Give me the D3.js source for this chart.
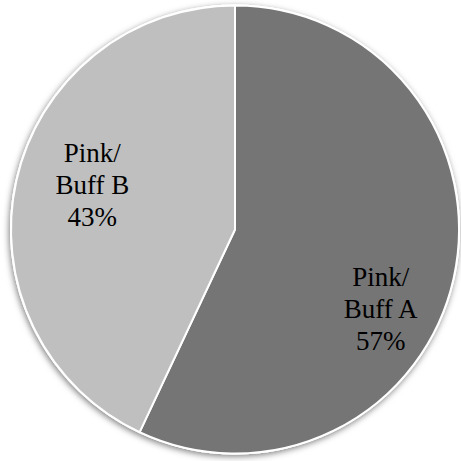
<!DOCTYPE html>
<html><head><meta charset="utf-8">
<script src="https://cdn.jsdelivr.net/npm/d3@7"></script>
<style>html,body{margin:0;padding:0;background:#fff;overflow:hidden}</style>
</head><body>
<script>
// data
const categories = ["Pink/ Buff A", "Pink/ Buff B"];
const labelLines = [["Pink/", "Buff A"], ["Pink/", "Buff B"]];
const values = [57, 43];
const colors = ["#757575", "#bfbfbf"];

// layout
const W = 461, H = 461;
const cx = 235, cy = 229.5, R = 224;
// label anchor: [angle offset (rad), radius fraction]
const labelPlacement = [[0.29, 0.745], [0.07, 0.665]];

const svg = d3.select("body").append("svg").attr("width", W).attr("height", H);
const defs = svg.append("defs");
const f = defs.append("filter").attr("id", "sh").attr("x", "-10%").attr("y", "-10%").attr("width", "120%").attr("height", "120%");
f.append("feDropShadow").attr("dx", -1).attr("dy", 2).attr("stdDeviation", 3)
  .attr("flood-color", "#000").attr("flood-opacity", 0.5);

const data = categories.map((c, i) => ({ c, v: values[i], i }));
const pie = d3.pie().value(d => d.v).sort(null);
const arcs = pie(data);
const arc = d3.arc().innerRadius(0).outerRadius(R);

const g = svg.append("g").attr("transform", `translate(${cx},${cy})`);
g.append("circle").attr("r", R + 1).attr("fill", "#fff").attr("filter", "url(#sh)");
g.selectAll("path.slice").data(arcs).enter().append("path")
  .attr("class", "slice")
  .attr("d", arc)
  .attr("fill", d => colors[d.index])
  .attr("stroke", "#fff").attr("stroke-width", 2).attr("stroke-linejoin", "round");

const total = d3.sum(values);
const lbl = g.selectAll("text.lbl").data(arcs).enter().append("text")
  .attr("class", "lbl")
  .attr("font-family", "'Liberation Serif', serif")
  .attr("font-size", 27)
  .attr("fill", "#000")
  .attr("text-anchor", "middle")
  .attr("transform", d => {
    const p = labelPlacement[d.index];
    const a = (d.startAngle + d.endAngle) / 2 + p[0];
    const r = R * p[1];
    return `translate(${r * Math.sin(a)},${-r * Math.cos(a)})`;
  });
lbl.each(function(d) {
  const t = d3.select(this);
  const lines = labelLines[d.index].concat([Math.round(d.data.v / total * 100) + "%"]);
  lines.forEach((s, k) => {
    t.append("tspan").attr("x", 0).attr("y", (k - 1) * 32 + 7).text(s);
  });
});
</script>
</body></html>
